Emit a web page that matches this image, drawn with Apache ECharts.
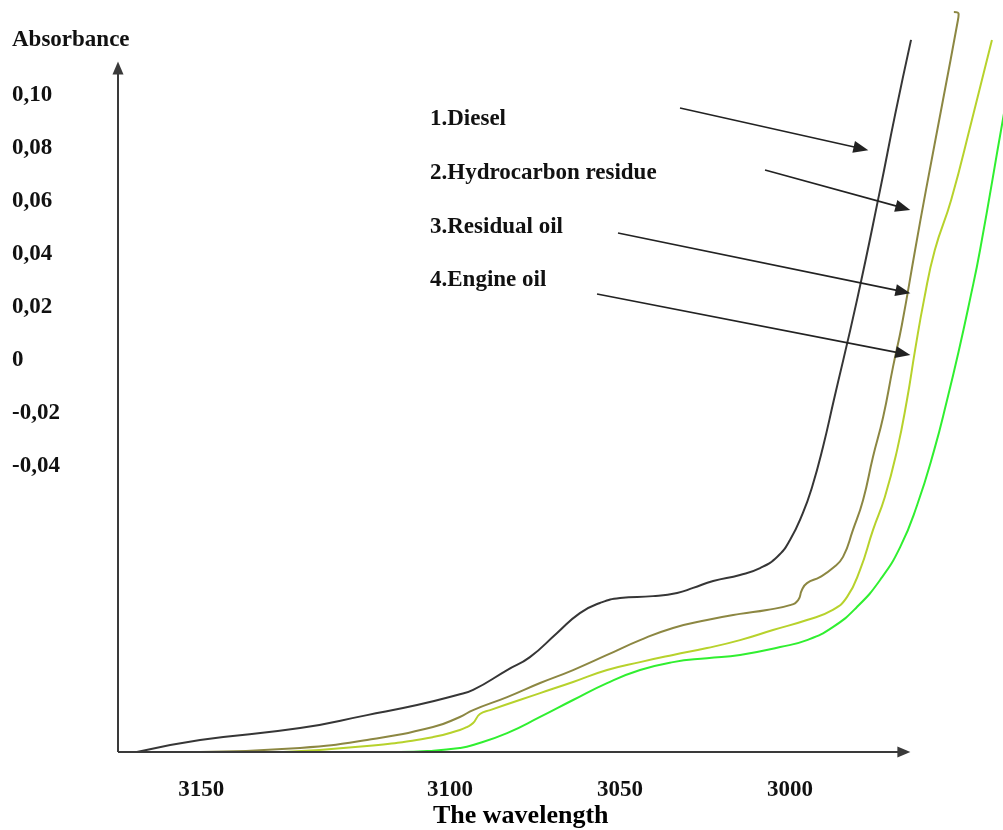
<!DOCTYPE html>
<html>
<head>
<meta charset="utf-8">
<script src="https://cdn.jsdelivr.net/npm/echarts@6/dist/echarts.min.js"></script>
<style>
  html, body { margin: 0; padding: 0; background: #fff; }
  #chart { width: 1003px; height: 830px; }
</style>
</head>
<body>
<div id="chart"></div>
<script>
// 数据: [波数, 吸光度]
const seriesNames = ['1.Diesel', '2.Hydrocarbon residue', '3.Residual oil', '4.Engine oil'];

const diesel = [
    [3192.1, -0.1479], [3173.5, -0.1434], [3144.1, -0.1389], [3124.4, -0.1340],
    [3109.7, -0.1302], [3097.9, -0.1264], [3093.2, -0.1245], [3083.2, -0.1170],
    [3076.5, -0.1121], [3068.5, -0.1030], [3061.8, -0.0955], [3055.9, -0.0917],
    [3050.0, -0.0898], [3040.3, -0.0891], [3033.2, -0.0879], [3028.5, -0.0860],
    [3022.6, -0.0834], [3014.7, -0.0811], [3008.8, -0.0785], [3003.8, -0.0743],
    [3000.0, -0.0679], [2996.2, -0.0577], [2993.5, -0.0479], [2990.3, -0.0328],
    [2987.1, -0.0151], [2980.3, 0.0226], [2973.5, 0.0642], [2969.1, 0.0925],
    [2964.4, 0.1208]
];

const hydrocarbonResidue = [
    [3173.5, -0.1479], [3144.1, -0.1464], [3124.4, -0.1434], [3105.0, -0.1385],
    [3097.1, -0.1347], [3093.2, -0.1321], [3083.2, -0.1272], [3073.5, -0.1219],
    [3063.8, -0.1170], [3053.8, -0.1113], [3044.1, -0.1057], [3034.4, -0.1011],
    [3024.4, -0.0981], [3014.7, -0.0958], [3006.8, -0.0943], [3000.0, -0.0925],
    [2997.6, -0.0906], [2996.5, -0.0868], [2995.0, -0.0842], [2991.2, -0.0819],
    [2987.4, -0.0785], [2984.4, -0.0743], [2981.5, -0.0642], [2978.5, -0.0528],
    [2975.6, -0.0366], [2972.6, -0.0215], [2969.7, -0.0026], [2967.1, 0.0132],
    [2963.2, 0.0415], [2960.0, 0.0642], [2955.0, 0.0981], [2950.6, 0.1283],
    [2950.4, 0.1306], [2951.8, 0.1313]
];

const residualOil = [
    [3149.1, -0.1479], [3124.4, -0.1457], [3105.0, -0.1423], [3097.1, -0.1396],
    [3095.0, -0.1385], [3093.2, -0.1370], [3091.2, -0.1336], [3088.2, -0.1321],
    [3073.5, -0.1257], [3063.8, -0.1215], [3053.8, -0.1170], [3044.1, -0.1140],
    [3034.4, -0.1113], [3024.4, -0.1087], [3014.7, -0.1057], [3005.0, -0.1019],
    [2995.0, -0.0981], [2987.4, -0.0943], [2983.2, -0.0894], [2979.4, -0.0792],
    [2975.6, -0.0642], [2972.1, -0.0517], [2968.5, -0.0340], [2965.6, -0.0151],
    [2963.2, 0.0038], [2960.6, 0.0226], [2957.4, 0.0415], [2952.6, 0.0604],
    [2946.5, 0.0906], [2940.6, 0.1208]
];

const engineOil = [
    [3130.3, -0.1479], [3114.7, -0.1479], [3105.9, -0.1475], [3097.1, -0.1464],
    [3093.2, -0.1453], [3083.2, -0.1408], [3073.5, -0.1347], [3063.8, -0.1283],
    [3053.8, -0.1219], [3044.1, -0.1170], [3034.4, -0.1140], [3024.4, -0.1125],
    [3014.7, -0.1113], [3002.9, -0.1083], [2995.0, -0.1057], [2987.4, -0.1008],
    [2980.3, -0.0932], [2973.5, -0.0830], [2967.6, -0.0706], [2962.6, -0.0547],
    [2957.6, -0.0340], [2953.8, -0.0151], [2950.3, 0.0038], [2947.1, 0.0226],
    [2944.1, 0.0415], [2937.4, 0.0906], [2935.3, 0.1049]
];

// 刻度
const yTickValues = [-0.04, -0.02, 0, 0.02, 0.04, 0.06, 0.08, 0.10];
const xTickValues = [3173.2, 3100, 3050, 3000];
const xTickLabels = ['3150', '3100', '3050', '3000'];

// 指示箭头 [起点, 终点]
const pointerArrows = [
    [[3032.35, 0.0951], [2979.12, 0.0798]],
    [[3007.35, 0.0717], [2966.76, 0.0574]],
    [[3050.59, 0.0479], [2966.76, 0.0258]],
    [[3056.76, 0.0249], [2966.76, 0.0024]]
];

const seriesColors = ['#363636', '#8c8742', '#b7d22c', '#30ef30'];

const X_MIN = 2937.35, X_MAX = 3197.65;
const Y_MIN = -0.14792, Y_MAX = 0.13585;
const FONT = '"Liberation Serif", "Times New Roman", serif';

const chart = echarts.init(document.getElementById('chart'));

const curveSeries = [diesel, hydrocarbonResidue, residualOil, engineOil].map((d, i) => ({
    name: seriesNames[i],
    type: 'line',
    data: d,
    smooth: 0.5,
    showSymbol: false,
    silent: true,
    lineStyle: { color: seriesColors[i], width: 2 }
}));

chart.setOption({
    animation: false,
    backgroundColor: '#fff',
    grid: { left: 118, right: 0, top: 0, bottom: 78, containLabel: false },
    xAxis: {
        type: 'value',
        inverse: true,
        min: X_MIN,
        max: X_MAX,
        axisLine: { show: false },
        axisTick: { show: false },
        splitLine: { show: false },
        axisLabel: {
            customValues: xTickValues,
            formatter: v => xTickLabels[xTickValues.indexOf(v)],
            margin: 27,
            color: '#111',
            fontFamily: FONT,
            fontWeight: 'bold',
            fontSize: 23
        }
    },
    yAxis: {
        type: 'value',
        min: Y_MIN,
        max: Y_MAX,
        axisLine: { show: false },
        axisTick: { show: false },
        splitLine: { show: false },
        axisLabel: {
            customValues: yTickValues,
            formatter: v => (v === 0 ? '0' : v.toFixed(2).replace('.', ',')),
            align: 'left',
            margin: 106,
            color: '#111',
            fontFamily: FONT,
            fontWeight: 'bold',
            fontSize: 23
        }
    },
    graphic: [
        { type: 'text', left: 12, top: 29, style: { text: 'Absorbance', fill: '#111', font: 'bold 23px ' + FONT } },
        { type: 'text', left: 430, top: 108, style: { text: seriesNames[0], fill: '#111', font: 'bold 23px ' + FONT } },
        { type: 'text', left: 430, top: 162, style: { text: seriesNames[1], fill: '#111', font: 'bold 23px ' + FONT } },
        { type: 'text', left: 430, top: 216, style: { text: seriesNames[2], fill: '#111', font: 'bold 23px ' + FONT } },
        { type: 'text', left: 430, top: 269, style: { text: seriesNames[3], fill: '#111', font: 'bold 23px ' + FONT } },
        { type: 'text', left: 433, top: 803, style: { text: 'The wavelength', fill: '#000', font: 'bold 26px ' + FONT } }
    ],
    series: [
        ...curveSeries,
        {
            // 坐标轴箭头
            name: 'axes',
            type: 'line',
            data: [],
            clip: false,
            silent: true,
            markLine: {
                silent: true,
                symbol: ['none', 'triangle'],
                symbolSize: [11, 13],
                label: { show: false },
                lineStyle: { color: '#3a3a3a', width: 2, type: 'solid' },
                data: [
                    [{ coord: [X_MAX, Y_MIN] }, { coord: [X_MAX, 0.1102] }],
                    [{ coord: [X_MAX, Y_MIN] }, { coord: [2966.5, Y_MIN] }]
                ]
            }
        },
        {
            // 指示箭头
            name: 'pointers',
            type: 'line',
            data: [],
            clip: false,
            silent: true,
            markLine: {
                silent: true,
                symbol: ['none', 'triangle'],
                symbolSize: [12, 15],
                label: { show: false },
                lineStyle: { color: '#222', width: 1.6, type: 'solid' },
                data: pointerArrows.map(a => [{ coord: a[0] }, { coord: a[1] }])
            }
        }
    ]
});
</script>
</body>
</html>
